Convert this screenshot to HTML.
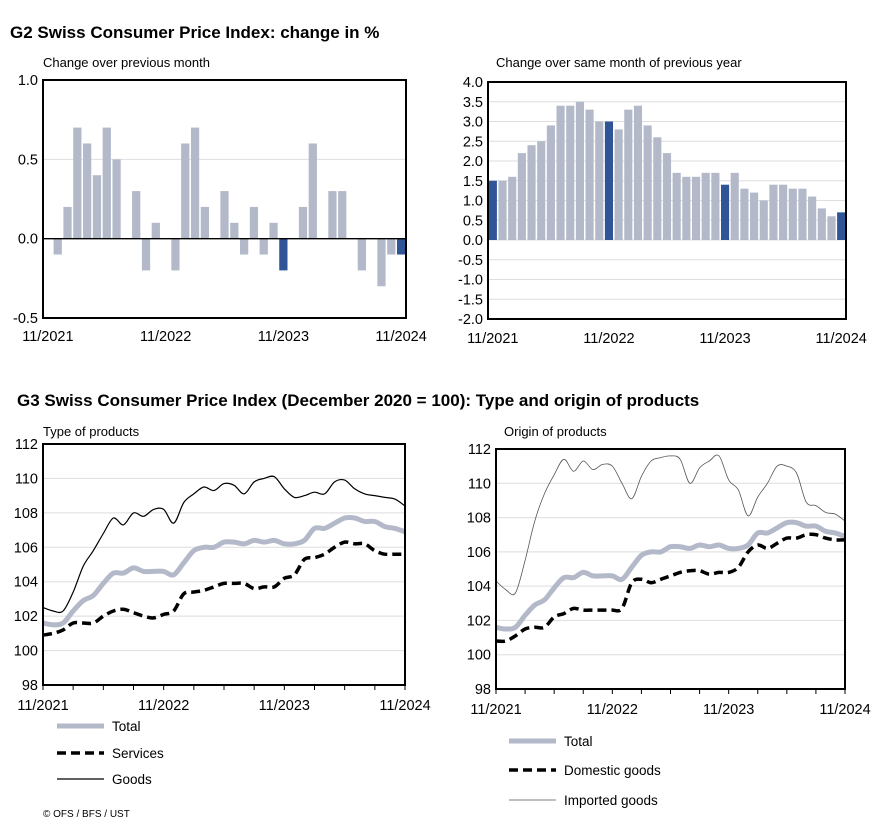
<!DOCTYPE html>
<html><head><meta charset="utf-8"><style>
body{margin:0;background:#fff;}
svg{display:block;font-family:"Liberation Sans",Arial,sans-serif;}
</style></head><body>
<svg id="s" width="876" height="821" viewBox="0 0 876 821">
<text x="10" y="38" font-size="17" font-weight="bold">G2  Swiss Consumer Price Index: change in %</text>
<text x="43" y="67" font-size="13">Change over previous month</text>
<text x="496" y="67" font-size="13">Change over same month of previous year</text>
<text x="17" y="406" font-size="17" font-weight="bold">G3  Swiss Consumer Price Index (December 2020 = 100): Type and origin of products</text>
<text x="43" y="436" font-size="13">Type of products</text>
<text x="504" y="436" font-size="13">Origin of products</text>
<text x="43" y="817" font-size="10">© OFS / BFS / UST</text>
</svg>
<script>
const xLabels=["11/2021","11/2022","11/2023","11/2024"];
const momValues=[0,-0.1,0.2,0.7,0.6,0.4,0.7,0.5,0,0.3,-0.2,0.1,0,-0.2,0.6,0.7,0.2,0,0.3,0.1,-0.1,0.2,-0.1,0.1,-0.2,0,0.2,0.6,0,0.3,0.3,0,-0.2,0,-0.3,-0.1,-0.1];
const yoyValues=[1.5,1.5,1.6,2.2,2.4,2.5,2.9,3.4,3.4,3.5,3.3,3.0,3.0,2.8,3.3,3.4,2.9,2.6,2.2,1.7,1.6,1.6,1.7,1.7,1.4,1.7,1.3,1.2,1.0,1.4,1.4,1.3,1.3,1.1,0.8,0.6,0.7];
const momTicks=[1.0,0.5,0.0,-0.5];
const yoyTicks=[4,3.5,3,2.5,2,1.5,1,0.5,0,-0.5,-1,-1.5,-2];
const idxTicks=[112,110,108,106,104,102,100,98];
const totalValues=[101.6,101.5,101.6,102.3,102.9,103.2,103.9,104.5,104.5,104.8,104.6,104.6,104.6,104.4,105.1,105.8,106.0,106.0,106.3,106.3,106.2,106.4,106.3,106.4,106.2,106.2,106.4,107.1,107.1,107.4,107.7,107.7,107.5,107.5,107.2,107.1,106.9];
const servicesValues=[100.9,101.0,101.2,101.6,101.6,101.6,102.0,102.3,102.4,102.2,102.0,101.9,102.1,102.3,103.3,103.4,103.5,103.7,103.9,103.9,103.9,103.6,103.7,103.7,104.2,104.4,105.3,105.4,105.6,106.0,106.3,106.2,106.2,105.8,105.6,105.6,105.6];
const goodsValues=[102.5,102.3,102.3,103.4,104.9,105.8,106.8,107.7,107.3,108.0,107.8,108.2,108.2,107.4,108.6,109.1,109.5,109.3,109.7,109.6,109.1,109.8,110.0,110.1,109.4,108.9,109.0,109.2,109.1,109.8,109.9,109.4,109.1,109.0,108.9,108.8,108.4];
const domesticValues=[100.8,100.8,101.1,101.5,101.6,101.6,102.2,102.4,102.7,102.6,102.6,102.6,102.6,102.7,104.2,104.4,104.2,104.4,104.6,104.8,104.9,104.9,104.7,104.8,104.8,105.1,106.0,106.4,106.2,106.5,106.8,106.8,107.0,107.0,106.8,106.7,106.7];
const importedValues=[104.3,103.8,103.6,105.5,107.8,109.4,110.5,111.4,110.7,111.3,110.8,111.1,111.0,110.0,109.1,110.4,111.3,111.5,111.6,111.4,110.0,110.9,111.3,111.6,110.2,109.6,108.1,109.2,110.0,111.0,111.0,110.6,108.9,108.7,108.3,108.2,107.8];

const svg=document.getElementById('s');
const NS='http://www.w3.org/2000/svg';
const FS=14.5;
function mk(tag,attrs,parent){const e=document.createElementNS(NS,tag);for(const k in attrs)e.setAttribute(k,attrs[k]);(parent||svg).appendChild(e);return e;}
const LIGHT='#b3b9c9',DARK='#2f5597',GRID='#dedede';

function barChart(o){
  const g=mk('g',{});
  
  
  const y=v=>o.t+(o.max-v)/(o.max-o.min)*(o.b-o.t);
  const n=o.vals.length,bw=(o.r-o.l)/n;
  o.ticks.forEach(t=>{
    if(o.grid.includes(t)){const gl=mk('line',{x1:o.l,x2:o.r,y1:y(t),y2:y(t),stroke:GRID,'stroke-width':1},g);}
    const tx=mk('text',{x:o.l-5,y:y(t)+5,'font-size':FS,'text-anchor':'end'},g);tx.textContent=t.toFixed(1);
    
  });
  o.vals.forEach((v,i)=>{
    const x=o.l+i*bw+bw*0.08,w=bw*0.84;
    const y0=y(0),y1=y(v);
    const r=mk('rect',{x:x,y:Math.min(y0,y1),width:w,height:Math.abs(y1-y0),fill:(i%12==0)?DARK:LIGHT},g);
    
    
  });
  if(o.zeroLine){const zl=mk('line',{x1:o.l,x2:o.r,y1:y(0),y2:y(0),stroke:'#000','stroke-width':1.3},g);}
  const fr=mk('rect',{x:o.l,y:o.t,width:o.r-o.l,height:o.b-o.t,fill:'none',stroke:'#000','stroke-width':2},g);
  
  xLabels.forEach((lab,k)=>{
    const tx=mk('text',{x:o.l+(k*12+0.5)*bw,y:o.ly,'font-size':FS,'text-anchor':'middle'},g);tx.textContent=lab;
    
  });
}
barChart({name:'mom-bar-chart',vals:momValues,l:43,r:406,t:80,b:318,min:-0.5,max:1,ticks:momTicks,grid:[0.5],zeroLine:true,ly:341});
barChart({name:'yoy-bar-chart',vals:yoyValues,l:488,r:846,t:82,b:319,min:-2,max:4,ticks:yoyTicks,grid:yoyTicks.filter(t=>t<4&&t>-2),zeroLine:false,ly:343});

function smoothPath(pts){
  let d='M'+pts[0][0]+','+pts[0][1];
  for(let i=0;i<pts.length-1;i++){
    const p0=pts[Math.max(0,i-1)],p1=pts[i],p2=pts[i+1],p3=pts[Math.min(pts.length-1,i+2)];
    const c1=[p1[0]+(p2[0]-p0[0])/6,p1[1]+(p2[1]-p0[1])/6],c2=[p2[0]-(p3[0]-p1[0])/6,p2[1]-(p3[1]-p1[1])/6];
    d+=' C'+c1[0].toFixed(1)+','+c1[1].toFixed(1)+' '+c2[0].toFixed(1)+','+c2[1].toFixed(1)+' '+p2[0].toFixed(1)+','+p2[1].toFixed(1);
  }
  return d;
}
function lineChart(o){
  const g=mk('g',{});
  
  
  const y=v=>o.t+(112-v)/14*(o.b-o.t);
  const x=i=>o.l+i*(o.r-o.l)/36;
  idxTicks.forEach(t=>{
    if(t<112&&t>98){const gl=mk('line',{x1:o.l,x2:o.r,y1:y(t),y2:y(t),stroke:GRID,'stroke-width':1},g);}
    const tx=mk('text',{x:o.l-5,y:y(t)+5,'font-size':FS,'text-anchor':'end'},g);tx.textContent=t;
    
  });
  for(let i=0;i<=36;i+=3){const tk=mk('line',{x1:x(i),x2:x(i),y1:o.b,y2:o.b+5,stroke:'#000','stroke-width':1},g);}
  o.series.forEach(s=>{
    const p=mk('path',{d:smoothPath(s.vals.map((v,i)=>[x(i),y(v)])),fill:'none',stroke:s.color,'stroke-width':s.w,'stroke-dasharray':s.dash||'none','stroke-linejoin':'round'},g);
    
    
  });
  const fr=mk('rect',{x:o.l,y:o.t,width:o.r-o.l,height:o.b-o.t,fill:'none',stroke:'#000','stroke-width':2},g);
  
  xLabels.forEach((lab,k)=>{
    const tx=mk('text',{x:x(k*12),y:o.ly,'font-size':FS,'text-anchor':'middle'},g);tx.textContent=lab;
    
  });
  o.legend.forEach((s,k)=>{
    const ly=o.legY[k];
    const le=mk('g',{},g);
    
    
    mk('line',{x1:o.legX,x2:o.legX+47,y1:ly,y2:ly,stroke:s.color,'stroke-width':s.w,'stroke-dasharray':s.dash||'none'},le);
    const tx=mk('text',{x:o.legX+55,y:ly+5,'font-size':13.5},le);tx.textContent=s.label;
  });
}
const sTotal={name:'total-line',label:'Total',vals:totalValues,color:LIGHT,w:5};
const sServ={name:'services-line',label:'Services',vals:servicesValues,color:'#000',w:3.5,dash:'9,5'};
const sGoods={name:'goods-line',label:'Goods',vals:goodsValues,color:'#000',w:1.2};
lineChart({name:'type-line-chart',l:43,r:405,t:444,b:685,ly:710,legX:57,legY:[726,753,779],series:[sGoods,sTotal,sServ],legend:[sTotal,sServ,sGoods]});
const sDom={name:'domestic-line',label:'Domestic goods',vals:domesticValues,color:'#000',w:3.5,dash:'9,5'};
const sImp={name:'imported-line',label:'Imported goods',vals:importedValues,color:'#555',w:0.8};
lineChart({name:'origin-line-chart',l:496,r:845,t:449,b:689,ly:714,legX:509,legY:[741,770,800],series:[sImp,sTotal,sDom],legend:[sTotal,sDom,sImp]});
</script>
</body></html>
